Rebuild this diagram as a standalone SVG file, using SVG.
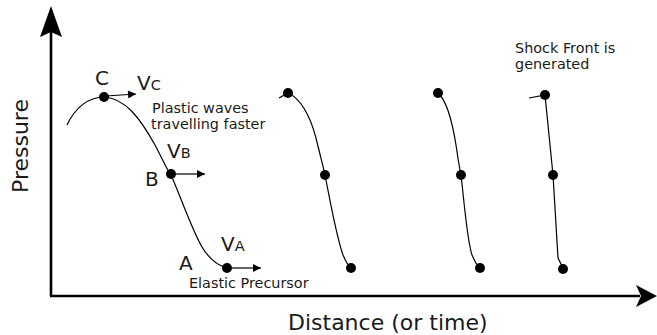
<svg xmlns="http://www.w3.org/2000/svg" width="657" height="335" viewBox="0 0 657 335">
<defs>
<style>
text{font-family:"DejaVu Sans","Verdana",sans-serif;fill:#1a1a1a}
.axis{stroke:#000;stroke-width:2.6;fill:none}
.curve{stroke:#000;stroke-width:1.2;fill:none}
.vel{stroke:#000;stroke-width:1.2;fill:none;marker-end:url(#ah)}
.dot{fill:#000}
.big{font-size:20px}
.sub{font-size:14.5px}
.note{font-size:14.4px}
.lab{font-size:22px}
</style>
<marker id="ah" viewBox="0 0 10 10" refX="10" refY="5" markerUnits="userSpaceOnUse" markerWidth="10" markerHeight="8" orient="auto">
<path d="M0,0 L10,5 L0,10 Z" fill="#000"/>
</marker>
</defs>
<g id="axes">
<line class="axis" x1="51" y1="296" x2="51" y2="32"/>
<path d="M51,6 L62,37 L51,32 L40,37 Z" fill="#000"/>
<line class="axis" x1="50" y1="296" x2="640" y2="296"/>
<path d="M657,296 L636,307 L641,296 L636,285 Z" fill="#000"/>
<text class="lab" transform="translate(28,193) rotate(-90)">Pressure</text>
<text class="lab" x="288" y="330">Distance (or time)</text>
</g>
<g id="connectors">
<path class="curve" d="M67,125 C75,108 88,97 104,97 C125,98 140,118 155,145 C163,160 168,172 171,175 C180,195 192,230 202,247 C208,257 216,265 227,268"/>
<path class="curve" d="M279,98 L288,93 C300,98 310,115 316,138 C320,155 323,165 325,175 C330,200 336,235 343,255 C346,262 348,266 351,268"/>
<path class="curve" d="M438,93 C446,100 452,120 456,145 C458,160 460,170 461,175 C464,200 467,240 472,255 C475,262 477,266 480,268"/>
<path class="curve" d="M529,98 L545,95 L553,175 L558,258 L563,268"/>
<line class="vel" x1="106" y1="96" x2="136" y2="94"/>
<line class="vel" x1="173" y1="174" x2="205" y2="174"/>
<line class="vel" x1="229" y1="268" x2="261" y2="268"/>
</g>
<g id="wave1">
<circle class="dot" cx="104" cy="97" r="5"/>
<circle class="dot" cx="171" cy="174" r="5"/>
<circle class="dot" cx="227" cy="268" r="5"/>
<text class="big" x="95" y="85">C</text>
<text class="big" x="145" y="186">B</text>
<text class="big" x="179" y="270">A</text>
<text x="137" y="90"><tspan class="big">V</tspan><tspan class="sub">C</tspan></text>
<text x="167" y="158"><tspan class="big">V</tspan><tspan class="sub">B</tspan></text>
<text x="221" y="251"><tspan class="big">V</tspan><tspan class="sub">A</tspan></text>
<text class="note" x="152" y="113">Plastic waves</text>
<text class="note" x="151" y="129">travelling faster</text>
<text class="note" x="189" y="288">Elastic Precursor</text>
</g>
<g id="wave2">
<circle class="dot" cx="288" cy="93" r="5"/>
<circle class="dot" cx="325" cy="175" r="5"/>
<circle class="dot" cx="351" cy="268" r="5"/>
</g>
<g id="wave3">
<circle class="dot" cx="438" cy="93" r="5"/>
<circle class="dot" cx="461" cy="175" r="5"/>
<circle class="dot" cx="480" cy="268" r="5"/>
</g>
<g id="wave4">
<circle class="dot" cx="545" cy="95" r="5"/>
<circle class="dot" cx="553" cy="175" r="5"/>
<circle class="dot" cx="563" cy="269" r="5"/>
<text class="note" x="515" y="53">Shock Front is</text>
<text class="note" x="515" y="69">generated</text>
</g>
</svg>
